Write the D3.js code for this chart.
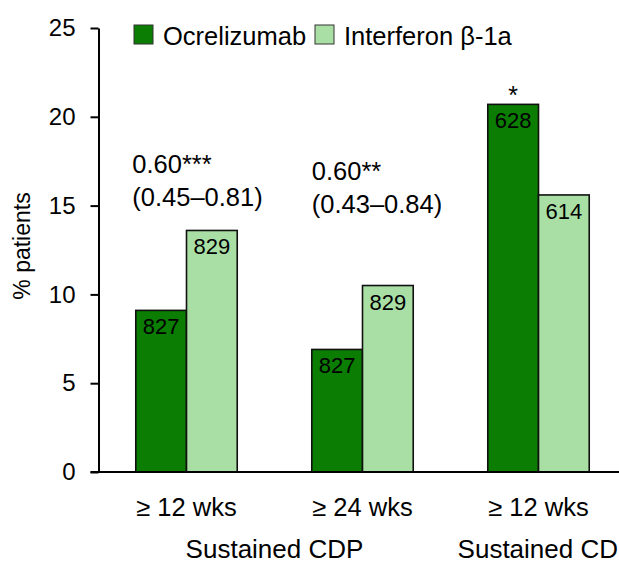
<!DOCTYPE html>
<html>
<head>
<meta charset="utf-8">
<script src="https://cdn.jsdelivr.net/npm/d3@7"></script>
<style>
  body { margin: 0; background: #fff; }
  svg { display: block; font-family: "Liberation Sans", Arial, sans-serif; }
</style>
</head>
<body>
<div id="chart"></div>
<script>
const groups = ["cdp12", "cdp24", "cdi12"];
const groupLabels = ["≥ 12 wks", "≥ 24 wks", "≥ 12 wks"];
const series = ["Ocrelizumab", "Interferon β-1a"];
const ocrelizumab = [9.1, 6.9, 20.7];
const interferon = [13.6, 10.5, 15.6];
const ocrN = ["827", "827", "628"];
const ifnN = ["829", "829", "614"];
const ratios = ["0.60***", "0.60**", null];
const ratioCI = ["(0.45–0.81)", "(0.43–0.84)", null];
const ratioLevel = [16.85, 16.45, null];
const yTicks = [0, 5, 10, 15, 20, 25];
const endpoints = [
  { label: "Sustained CDP", from: 0, to: 1 },
  { label: "Sustained CD", from: 2, to: 2 }
];

const colors = { "Ocrelizumab": "#0a7d02", "Interferon β-1a": "#a9dfa5" };

const W = 619, H = 563;
const svg = d3.select("#chart").append("svg")
  .attr("width", W)
  .attr("height", H);

const x = d3.scaleBand().domain(groups).range([98.5, 98.5 + 3 * 176]);
const xs = d3.scaleBand().domain(series).range([0, x.bandwidth()]).paddingOuter(0.735);
const y = d3.scaleLinear().domain([0, 25]).range([472, 28]);

const rows = groups.map((g, i) => ({
  g,
  i,
  vals: [
    { s: series[0], v: ocrelizumab[i], n: ocrN[i] },
    { s: series[1], v: interferon[i], n: ifnN[i] }
  ]
}));

// bars
const grp = svg.selectAll(".grp")
  .data(rows)
  .join("g")
  .attr("class", "grp")
  .attr("transform", d => `translate(${x(d.g)},0)`);

grp.selectAll("rect")
  .data(d => d.vals)
  .join("rect")
  .attr("x", d => xs(d.s))
  .attr("width", xs.bandwidth())
  .attr("y", d => y(d.v))
  .attr("height", d => y(0) - y(d.v))
  .attr("fill", d => colors[d.s])
  .attr("stroke", "#111")
  .attr("stroke-width", 1.6);

grp.selectAll(".n")
  .data(d => d.vals)
  .join("text")
  .attr("class", "n")
  .attr("x", d => xs(d.s) + xs.bandwidth() / 2)
  .attr("y", d => y(d.v) + 24)
  .attr("text-anchor", "middle")
  .attr("font-size", 22)
  .attr("fill", "#000")
  .text(d => d.n);

// star over the third ocrelizumab bar
svg.append("text")
  .attr("x", x(groups[2]) + xs(series[0]) + xs.bandwidth() / 2)
  .attr("y", y(ocrelizumab[2]))
  .attr("text-anchor", "middle")
  .attr("font-size", 25)
  .text("*");

// hazard ratio notes
rows.forEach(d => {
  if (!ratios[d.i]) return;
  const tx = x(d.g) + xs(series[0]) - (d.i === 0 ? 3.5 : 0);
  svg.append("text")
    .attr("x", tx)
    .attr("y", y(ratioLevel[d.i]))
    .attr("font-size", 25.5)
    .text(ratios[d.i]);
  svg.append("text")
    .attr("x", tx)
    .attr("y", y(ratioLevel[d.i]) + 33)
    .attr("font-size", 25.5)
    .text(ratioCI[d.i]);
});

// y axis
const yAxis = svg.append("g")
  .attr("transform", `translate(${x.range()[0]},0)`)
  .call(d3.axisLeft(y).tickValues(yTicks).tickSize(8).tickPadding(15).tickSizeOuter(0));
yAxis.select(".domain").attr("stroke", "#000").attr("stroke-width", 2);
yAxis.selectAll(".tick line").attr("stroke", "#000").attr("stroke-width", 2);
yAxis.selectAll(".tick text")
  .attr("font-size", 24)
  .attr("font-family", "Liberation Sans, Arial, sans-serif")
  .attr("fill", "#000");

// x axis line
svg.append("line")
  .attr("x1", x.range()[0] - 8)
  .attr("x2", W)
  .attr("y1", y(0))
  .attr("y2", y(0))
  .attr("stroke", "#000")
  .attr("stroke-width", 2);

svg.selectAll(".xl")
  .data(groups)
  .join("text")
  .attr("class", "xl")
  .attr("x", g => x(g) + x.bandwidth() / 2)
  .attr("y", 516)
  .attr("text-anchor", "middle")
  .attr("font-size", 25.5)
  .text((g, i) => groupLabels[i]);

// endpoint labels, kept inside the picture
svg.selectAll(".ep")
  .data(endpoints)
  .join("text")
  .attr("class", "ep")
  .attr("y", 558)
  .attr("text-anchor", "middle")
  .attr("font-size", 26)
  .text(d => d.label)
  .attr("x", function (d) {
    const c = (x(groups[d.from]) + x(groups[d.to]) + x.bandwidth()) / 2;
    const half = this.getComputedTextLength() / 2;
    return Math.min(c, W - 1 - half);
  });

// y label
svg.append("text")
  .attr("transform", `translate(30,${(y(0) + y(25)) / 2 - 4}) rotate(-90)`)
  .attr("text-anchor", "middle")
  .attr("font-size", 23)
  .text("% patients");

// legend
const legendX = [134, 315];
const leg = svg.selectAll(".leg")
  .data(series)
  .join("g")
  .attr("class", "leg")
  .attr("transform", (s, i) => `translate(${legendX[i]},25)`);
leg.append("rect")
  .attr("width", 19)
  .attr("height", 19)
  .attr("fill", s => colors[s])
  .attr("stroke", "#333")
  .attr("stroke-width", 1);
leg.append("text")
  .attr("x", 29)
  .attr("y", 20)
  .attr("font-size", 25.5)
  .text(s => s);
</script>
</body>
</html>
